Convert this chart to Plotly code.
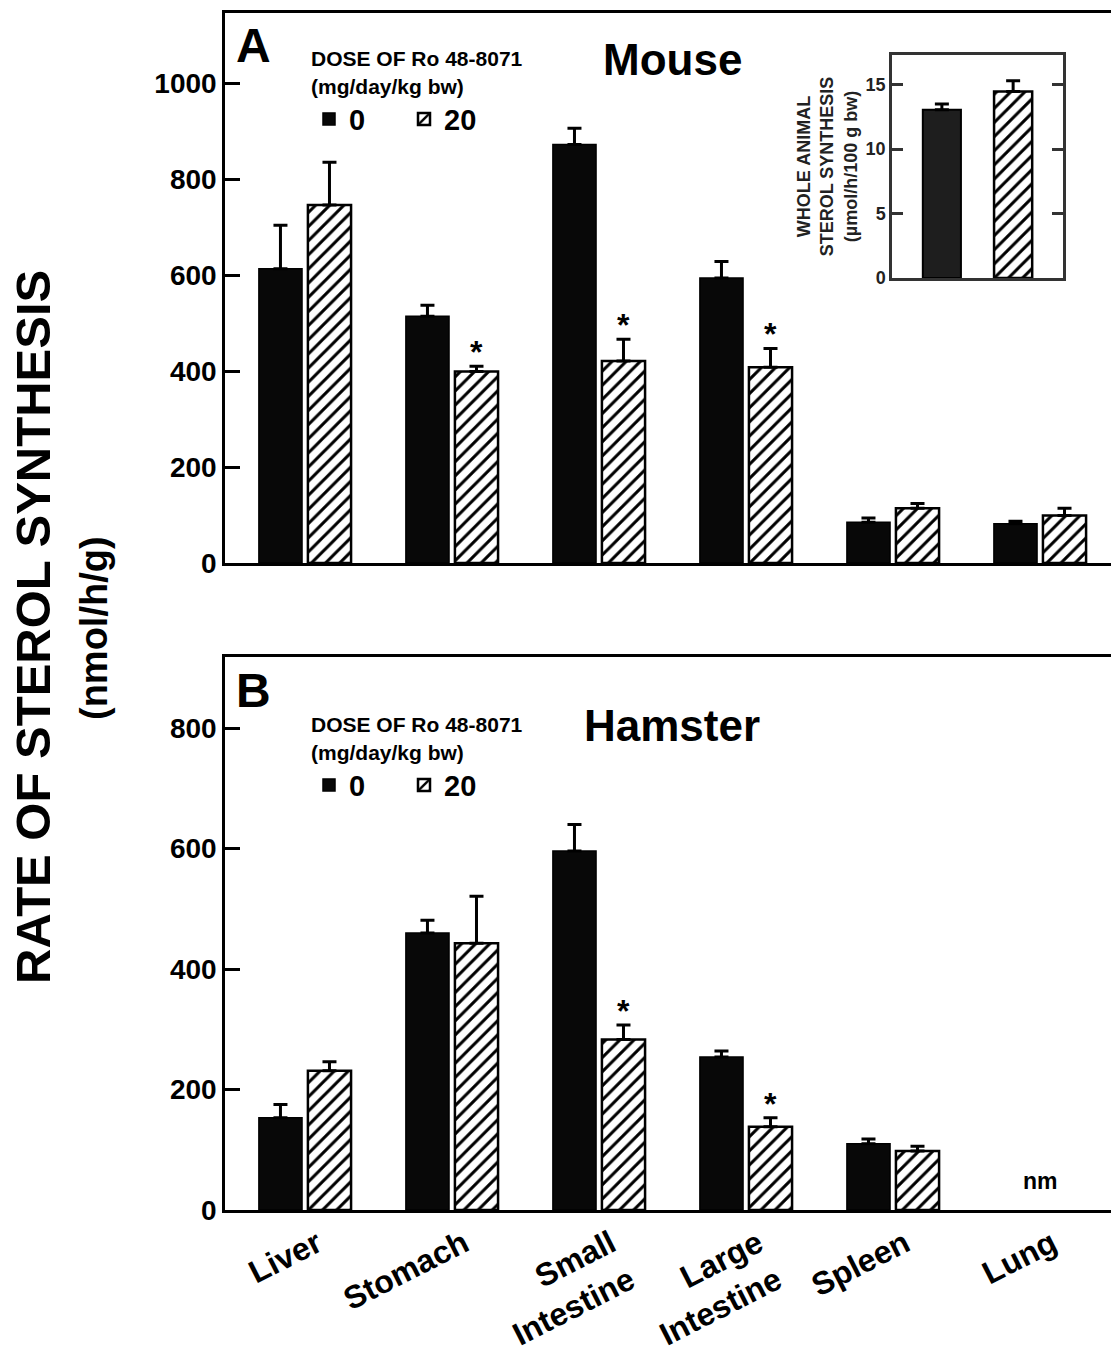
import plotly.graph_objects as go

# ---------------- data ----------------
organs = ["Liver", "Stomach", "Small<br>Intestine", "Large<br>Intestine", "Spleen", "Lung"]

mouse_ctrl = [613, 514, 872, 594, 85, 82]
mouse_ctrl_se = [91, 23, 34, 34, 9, 5]
mouse_drug = [746, 399, 421, 408, 114, 99]
mouse_drug_se = [89, 11, 45, 39, 10, 15]
mouse_sig = [False, True, True, True, False, False]

hamster_ctrl = [153, 460, 596, 254, 110, None]
hamster_ctrl_se = [22, 21, 44, 10, 8, None]
hamster_drug = [231, 443, 283, 138, 98, None]
hamster_drug_se = [15, 78, 24, 15, 8, None]
hamster_sig = [False, False, True, True, False, False]
hamster_nm = [False, False, False, False, False, True]

inset_groups = ["0", "20"]
inset_vals = [13.05, 14.47]
inset_se = [0.45, 0.83]

dose_labels = ["0", "20"]

# ---------------- style ----------------
FONT = "Liberation Sans, Arial, Helvetica, sans-serif"
BLACK = "#080808"
W, H = 1111, 1353
ML, MR, MT, MB = 225, 0, 13, 143
PW = W - ML - MR
PH = H - MT - MB

def py(pix):  # pixel row -> paper y
    return 1 - (pix - MT) / PH

def px(pix):
    return (pix - ML) / PW

XR = [-0.544, 5.483]
BARGAP = 0.333
GROUPGAP = 0.12
slot_px = PW / (XR[1] - XR[0]) * (1 - BARGAP) / 2

hatch = dict(shape="/", fgcolor="black", bgcolor="white", size=10, solidity=0.3, fillmode="replace")

fig = go.Figure()

def err(vals):
    return [0 if v is None else v for v in vals]

def add_panel(ctrl, ctrl_se, drug, drug_se, xa, ya, legend):
    fig.add_trace(go.Bar(
        x=organs, y=ctrl, name=dose_labels[0], xaxis=xa, yaxis=ya, legend=legend,
        marker=dict(color=BLACK, line=dict(color="black", width=1.5)),
        error_y=dict(type="data", array=err(ctrl_se), arrayminus=[0] * len(ctrl_se),
                     symmetric=False, color="black", thickness=3, width=7),
    ))
    fig.add_trace(go.Bar(
        x=organs, y=drug, name=dose_labels[1], xaxis=xa, yaxis=ya, legend=legend,
        marker=dict(color="white", line=dict(color="black", width=2.5), pattern=hatch),
        error_y=dict(type="data", array=err(drug_se), arrayminus=[0] * len(drug_se),
                     symmetric=False, color="black", thickness=3, width=7),
    ))

add_panel(mouse_ctrl, mouse_ctrl_se, mouse_drug, mouse_drug_se, "x", "y", "legend")
add_panel(hamster_ctrl, hamster_ctrl_se, hamster_drug, hamster_drug_se, "x2", "y2", "legend2")

# inset: one trace per bar, centred on its own category
INSET_W = 0.535
inset_markers = [
    dict(color="#1e1e1e", line=dict(color="black", width=2)),
    dict(color="white", line=dict(color="black", width=2.5), pattern=hatch),
]
for g, v, s, mk in zip(inset_groups, inset_vals, inset_se, inset_markers):
    fig.add_trace(go.Bar(
        x=[g], y=[v], xaxis="x3", yaxis="y3", showlegend=False,
        width=INSET_W, offset=-INSET_W / 2, marker=mk,
        error_y=dict(type="data", array=[s], arrayminus=[0], symmetric=False,
                     color="black", thickness=3, width=7),
    ))

# ---------------- axes ----------------
A_dom = [py(563), 1.0]
B_dom = [0.0, py(657)]

common_x = dict(type="category", range=XR, showline=True, linecolor="black", linewidth=2.5,
                mirror=True, ticks="", showgrid=False, zeroline=False)
common_y = dict(showline=True, linecolor="black", linewidth=2.5, ticks="inside", ticklen=15,
                tickwidth=2.5, tickcolor="black", showgrid=False, zeroline=False,
                tickfont=dict(family=FONT, size=28, color="black", weight="bold"))

fig.update_layout(
    xaxis=dict(**common_x, domain=[0, 1], anchor="y", showticklabels=False),
    yaxis=dict(**common_y, domain=A_dom, anchor="x", range=[0, 1146],
               tickvals=[0, 200, 400, 600, 800, 1000]),
    xaxis2=dict(**common_x, domain=[0, 1], anchor="y2", showticklabels=True, tickangle=-27,
                ticklabelshift=12,
                tickfont=dict(family=FONT, size=32, color="black", weight="bold")),
    yaxis2=dict(**common_y, domain=B_dom, anchor="x2", range=[0, 918],
                tickvals=[0, 200, 400, 600, 800]),
    # right-side mirror ticks without a line
    yaxis4=dict(overlaying="y", side="right", anchor="x", range=[0, 1146],
                tickvals=[0, 200, 400, 600, 800, 1000], ticks="inside", ticklen=9, tickwidth=2.5,
                tickcolor="black", showticklabels=False, showline=False, showgrid=False, zeroline=False),
    yaxis5=dict(overlaying="y2", side="right", anchor="x2", range=[0, 918],
                tickvals=[0, 200, 400, 600, 800], ticks="inside", ticklen=9, tickwidth=2.5,
                tickcolor="black", showticklabels=False, showline=False, showgrid=False, zeroline=False),
    # inset
    xaxis3=dict(domain=[px(892), px(1063)], anchor="y3", type="category", range=[-0.7, 1.7],
                showline=True, linecolor="#333", linewidth=2.5, mirror=True, ticks="",
                showticklabels=False, showgrid=False, zeroline=False),
    yaxis3=dict(domain=[py(278), py(55)], anchor="x3", range=[0, 17.3], tickvals=[0, 5, 10, 15],
                showline=True, linecolor="#333", linewidth=2.5, mirror="ticks", ticks="inside",
                ticklen=11, tickwidth=2.5, tickcolor="#333", showgrid=False, zeroline=False,
                tickfont=dict(family=FONT, size=18, color="#222", weight="bold"),
                title=dict(text="WHOLE ANIMAL<br>STEROL SYNTHESIS<br>(µmol/h/100 g bw)",
                           font=dict(family=FONT, size=18, color="#222", weight="bold"), standoff=4)),
    barmode="group", bargap=BARGAP, bargroupgap=GROUPGAP,
    width=W, height=H, margin=dict(l=ML, r=MR, t=MT, b=MB, autoexpand=False),
    paper_bgcolor="white", plot_bgcolor="white",
    font=dict(family=FONT, color="black"),
)

legend_common = dict(orientation="h", xanchor="left", yanchor="top", bgcolor="rgba(0,0,0,0)",
                     entrywidth=50, entrywidthmode="pixels", traceorder="normal",
                     font=dict(family=FONT, size=29, color="black", weight="bold"))
legend_title = dict(text="DOSE OF Ro 48-8071<br>(mg/day/kg bw)", side="top",
                    font=dict(family=FONT, size=21, color="black", weight="bold"))
fig.update_layout(
    legend=dict(**legend_common, x=px(309), y=py(39), title=legend_title),
    legend2=dict(**legend_common, x=px(309), y=py(705), title=legend_title),
)

# ---------------- annotations ----------------
ann = []
ann.append(dict(text="RATE OF STEROL SYNTHESIS", xref="paper", yref="paper",
                x=px(33), y=py(627), textangle=-90, showarrow=False, xanchor="center", yanchor="middle",
                font=dict(family=FONT, size=49, color="black", weight="bold")))
ann.append(dict(text="(nmol/h/g)", xref="paper", yref="paper",
                x=px(94), y=py(628), textangle=-90, showarrow=False, xanchor="center", yanchor="middle",
                font=dict(family=FONT, size=38, color="black", weight="bold")))
ann.append(dict(text="A", xref="paper", yref="paper", x=px(234), y=py(45), xanchor="left",
                yanchor="middle", showarrow=False, font=dict(family=FONT, size=48, color="black", weight="bold")))
ann.append(dict(text="B", xref="paper", yref="paper", x=px(234), y=py(690), xanchor="left",
                yanchor="middle", showarrow=False, font=dict(family=FONT, size=48, color="black", weight="bold")))
ann.append(dict(text="Mouse", xref="paper", yref="paper", x=px(672), y=py(59), xanchor="center",
                yanchor="middle", showarrow=False, font=dict(family=FONT, size=44, color="black", weight="bold")))
ann.append(dict(text="Hamster", xref="paper", yref="paper", x=px(672), y=py(725), xanchor="center",
                yanchor="middle", showarrow=False, font=dict(family=FONT, size=44, color="black", weight="bold")))

def stars(vals, ses, sig, xr, yr):
    for i, (v, s, g) in enumerate(zip(vals, ses, sig)):
        if g:
            ann.append(dict(text="*", xref=xr, yref=yr, x=i, y=v + s, xshift=slot_px / 2,
                            yanchor="bottom", yshift=-6, showarrow=False,
                            font=dict(family=FONT, size=32, color="black", weight="bold")))

stars(mouse_drug, mouse_drug_se, mouse_sig, "x", "y")
stars(hamster_drug, hamster_drug_se, hamster_sig, "x2", "y2")

for i, nm in enumerate(hamster_nm):
    if nm:
        ann.append(dict(text="nm", xref="x2", yref="y2", x=i, y=0, yanchor="bottom", yshift=14,
                        showarrow=False, font=dict(family=FONT, size=23, color="black", weight="bold")))

fig.update_layout(annotations=ann)

fig.write_html("out.html", config={"displayModeBar": False},
               post_script="document.body.style.margin='0';document.body.style.overflow='hidden';")
